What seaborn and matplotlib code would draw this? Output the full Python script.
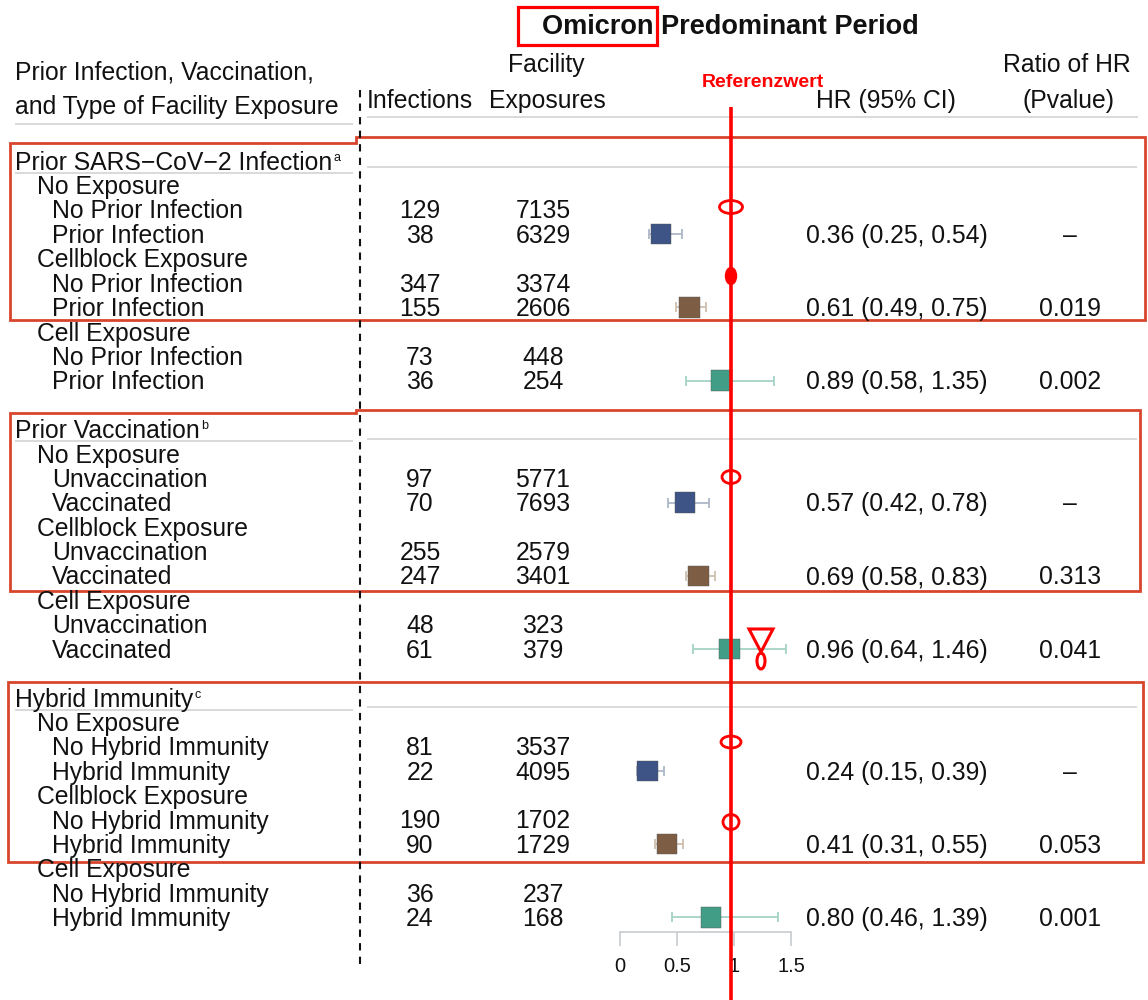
import numpy as np
import pandas as pd
import matplotlib
matplotlib.use("Agg")
import matplotlib.pyplot as plt
from matplotlib.patches import Polygon, Ellipse, Rectangle
import seaborn as sns

sns.set_theme(style="white")
plt.rcParams["font.family"] = ["Liberation Sans", "DejaVu Sans"]

# --- data -------------------------------------------------------------
sections = ["Prior SARS\u2212CoV\u22122 Infection", "Prior Vaccination", "Hybrid Immunity"]
footnotes = ["a", "b", "c"]
exposure_types = ["No Exposure", "Cellblock Exposure", "Cell Exposure"]
subgroups = [["No Prior Infection", "Prior Infection"],
             ["Unvaccination", "Vaccinated"],
             ["No Hybrid Immunity", "Hybrid Immunity"]]

infections = [129, 38, 347, 155, 73, 36,
              97, 70, 255, 247, 48, 61,
              81, 22, 190, 90, 36, 24]
exposures = [7135, 6329, 3374, 2606, 448, 254,
             5771, 7693, 2579, 3401, 323, 379,
             3537, 4095, 1702, 1729, 237, 168]

hr = [0.36, 0.61, 0.89, 0.57, 0.69, 0.96, 0.24, 0.41, 0.80]
hr_lo = [0.25, 0.49, 0.58, 0.42, 0.58, 0.64, 0.15, 0.31, 0.46]
hr_hi = [0.54, 0.75, 1.35, 0.78, 0.83, 1.46, 0.39, 0.55, 1.39]
ratio_p = ["\u2013", "0.019", "0.002", "\u2013", "0.313", "0.041", "\u2013", "0.053", "0.001"]

x_ticks = [0, 0.5, 1, 1.5]

box_colors = {"No Exposure": "#3e5487", "Cellblock Exposure": "#7d5e45", "Cell Exposure": "#429d87"}
bar_colors = {"No Exposure": "#aeb7c7", "Cellblock Exposure": "#cfc0b0", "Cell Exposure": "#a6d3c7"}

# --- layout helpers (pixels) ---------------------------------------------
W, H = 1148, 1000
ROW0, DY = 161, 24.4
FS = 17.8
BASE = 8.7  # baseline offset from visual row centre


def row_y(r):
    return ROW0 + DY * r


fig = plt.figure(figsize=(W / 100, H / 100), dpi=100)

# forest panel: x in HR units, y in row units
fax = fig.add_axes([600 / W, 1 - 932 / H, 200 / W, (932 - 140) / H], zorder=1)

rows_marker, grp = [], []
for s in range(3):
    for e in range(3):
        rows_marker.append(s * 11 + 3 + 3 * e)
        grp.append(exposure_types[e])

df = pd.DataFrame({"hr": hr, "lo": hr_lo, "hi": hr_hi, "row": rows_marker, "exposure": grp})

for name, sub in df.groupby("exposure"):
    fax.errorbar(sub["hr"], sub["row"],
                 xerr=[sub["hr"] - sub["lo"], sub["hi"] - sub["hr"]],
                 fmt="none", ecolor=bar_colors[name], elinewidth=1.3,
                 capsize=3.6, capthick=1.3, zorder=1)

sns.scatterplot(data=df, x="hr", y="row", hue="exposure", palette=box_colors,
                marker="s", s=215, edgecolor="#555555", linewidth=0.3,
                legend=False, ax=fax, zorder=2)

fax.set_xlabel("")
fax.set_ylabel("")
fax.set_xlim((600 - 620) / 114, (800 - 620) / 114)
fax.set_ylim((932 - ROW0) / DY, (140 - ROW0) / DY)
fax.set_facecolor("none")
for side in ["left", "top", "right"]:
    fax.spines[side].set_visible(False)
fax.spines["bottom"].set_bounds(0, 1.5)
fax.spines["bottom"].set_color("#c4c8cc")
fax.spines["bottom"].set_linewidth(1.1)
fax.set_xticks(x_ticks)
fax.set_xticklabels(["0", "0.5", "1", "1.5"])
fax.set_yticks([])
fax.tick_params(axis="x", bottom=True, direction="out", length=10, width=1.1,
                color="#c4c8cc", labelsize=14.5, pad=8, labelcolor="#111111")

# overlay in pixel coordinates for the table and annotations
ax = fig.add_axes([0, 0, 1, 1], zorder=3)
ax.set_xlim(0, W)
ax.set_ylim(H, 0)
ax.axis("off")

txt = dict(fontsize=FS, color="#111111", va="baseline")

# header
ax.text(730, 24 + 10, "Omicron Predominant Period", fontsize=19.5, fontweight="bold",
        ha="center", va="baseline", color="#111111")
ax.text(15, 71 + BASE, "Prior Infection, Vaccination,", ha="left", **txt)
ax.text(15, 105 + BASE, "and Type of Facility Exposure", ha="left", **txt)
ax.text(546, 63 + BASE, "Facility", ha="center", **txt)
ax.text(420, 99 + BASE, "Infections", ha="center", **txt)
ax.text(547, 99 + BASE, "Exposures", ha="center", **txt)
ax.text(886, 99 + BASE, "HR (95% CI)", ha="center", **txt)
ax.text(1067, 63 + BASE, "Ratio of HR", ha="center", **txt)
ax.text(1069, 99 + BASE, "(Pvalue)", ha="center", **txt)

# grey rules
gray = dict(color="#d3d3d3", lw=1.2, solid_capstyle="butt")
ax.plot([15, 353], [124, 124], **gray)
ax.plot([367, 1138], [117, 117], **gray)
sec_lines = [(173, 167), (441, 439), (710, 707)]
for left_y, right_y in sec_lines:
    ax.plot([15, 353], [left_y, left_y], **gray)
    ax.plot([367, 1137], [right_y, right_y], **gray)

# dashed divider
ax.plot([360, 360], [90, 965], color="#111111", lw=1.5, linestyle=(0, (3.5, 3)))

# table body
for s in range(3):
    base = s * 11
    t = ax.text(15, row_y(base) + BASE, sections[s], ha="left", **txt)
    ax.annotate(footnotes[s], xy=(1, 1), xycoords=t, xytext=(1, -1),
                textcoords="offset points", fontsize=9, va="top", ha="left",
                color="#111111")
    for e in range(3):
        i = s * 3 + e
        r = base + 1 + 3 * e
        ax.text(37, row_y(r) + BASE, exposure_types[e], ha="left", **txt)
        for k in range(2):
            rr = r + 1 + k
            ax.text(52, row_y(rr) + BASE, subgroups[s][k], ha="left", **txt)
            ax.text(420, row_y(rr) + BASE, str(infections[2 * i + k]), ha="center", **txt)
            ax.text(543, row_y(rr) + BASE, str(exposures[2 * i + k]), ha="center", **txt)
        rr = r + 2
        ax.text(806, row_y(rr) + BASE,
                f"{hr[i]:.2f} ({hr_lo[i]:.2f}, {hr_hi[i]:.2f})", ha="left", **txt)
        ax.text(1070, row_y(rr) + BASE, ratio_p[i], ha="center", **txt)

# --- red annotations --------------------------------------------------
orange = "#d8452d"
boxes = [
    [(10, 143), (356, 143), (356, 137), (1145, 137), (1145, 320), (10, 320)],
    [(10, 413), (356, 413), (356, 410), (1140, 410), (1140, 591), (10, 591)],
    [(8, 682), (1143, 682), (1143, 862), (8, 862)],
]
for pts in boxes:
    ax.add_patch(Polygon(pts, closed=True, fill=False, edgecolor=orange, lw=2.0))

red = "#ff0000"
ax.add_patch(Rectangle((518, 7), 139, 38, fill=False, edgecolor=red, lw=2.3))
ax.text(763, 81 + 6, "Referenzwert", color=red, fontsize=14, fontweight="bold",
        ha="center", va="baseline")
ax.plot([731, 731], [107, 1000], color=red, lw=2.6, solid_capstyle="butt")

for cy, w, h in [(207, 23, 13), (477, 18, 13), (742, 20, 12), (822, 16, 15)]:
    ax.add_patch(Ellipse((731, cy), w, h, fill=False, edgecolor=red, lw=2.0))
ax.add_patch(Ellipse((731, 276), 11, 17, facecolor=red, edgecolor=red, lw=1))
ax.add_patch(Polygon([(749, 629), (773, 629), (761, 652)], closed=True,
                     fill=False, edgecolor=red, lw=2.2))
ax.add_patch(Ellipse((761, 661), 8, 16, fill=False, edgecolor=red, lw=2.2))

fig.savefig("out.png", dpi=100, facecolor="white")
